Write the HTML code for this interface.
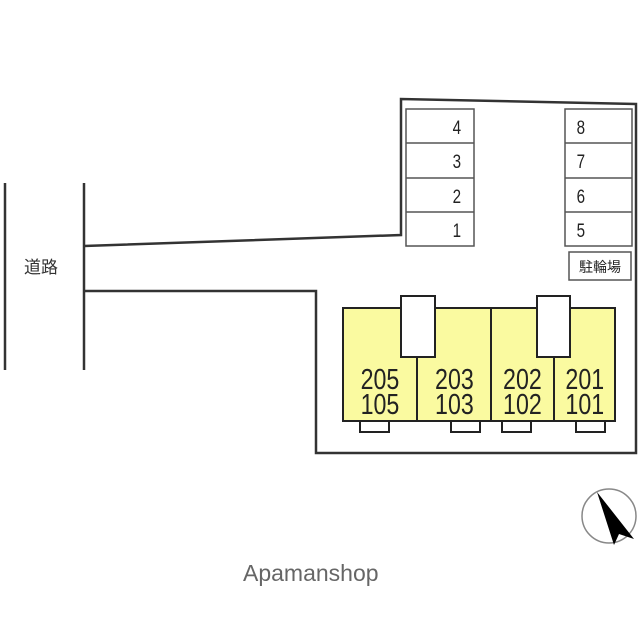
<!DOCTYPE html>
<html><head><meta charset="utf-8"><style>
body{margin:0;background:#fff;}
svg{display:block}
</style></head><body>
<svg width="640" height="640" viewBox="0 0 640 640" xmlns="http://www.w3.org/2000/svg">
<g stroke="#333" stroke-width="2.5" fill="none">
<line x1="5" y1="183" x2="5" y2="370"/>
<line x1="84" y1="183" x2="84" y2="370"/>
<polyline points="84,246 401,235 401,99 636,104 636,453 316,453 316,291 84,291"/>
</g>
<text x="24" y="273" font-family="Liberation Sans, Noto Sans CJK JP, sans-serif" font-size="17" fill="#333">道路</text>
<g stroke="#555" stroke-width="1.5" fill="#fff">
<rect x="406" y="109" width="68" height="137"/>
<line x1="406" y1="143" x2="474" y2="143"/><line x1="406" y1="178" x2="474" y2="178"/><line x1="406" y1="212" x2="474" y2="212"/>
<rect x="565" y="109" width="67" height="137"/>
<line x1="565" y1="143" x2="632" y2="143"/><line x1="565" y1="178" x2="632" y2="178"/><line x1="565" y1="212" x2="632" y2="212"/>
<rect x="569" y="252" width="62" height="28"/>
</g>
<g font-family="Liberation Sans, sans-serif" font-size="19" fill="#222" text-anchor="middle" transform="scale(0.8,1)">
<text x="571" y="134">4</text><text x="571" y="168">3</text><text x="571" y="203">2</text><text x="571" y="237">1</text>
<text x="726" y="134">8</text><text x="726" y="168">7</text><text x="726" y="203">6</text><text x="726" y="237">5</text>
</g>
<text x="600" y="272" font-family="Liberation Sans, Noto Sans CJK JP, sans-serif" font-size="14" fill="#222" text-anchor="middle">駐輪場</text>
<g stroke="#222" stroke-width="2" fill="#fff">
<rect x="360" y="421" width="29" height="11"/><rect x="451" y="421" width="29" height="11"/>
<rect x="502" y="421" width="29" height="11"/><rect x="576" y="421" width="29" height="11"/>
</g>
<g stroke="#222" stroke-width="2">
<rect x="343" y="308" width="272" height="113" fill="#fafaa0"/>
<line x1="491" y1="308" x2="491" y2="421"/>
<line x1="417" y1="357" x2="417" y2="421"/>
<line x1="554" y1="357" x2="554" y2="421"/>
<rect x="401" y="296" width="34" height="61" fill="#fff"/>
<rect x="537" y="296" width="33" height="61" fill="#fff"/>
</g>
<g font-family="Liberation Sans, sans-serif" font-size="29" fill="#222" text-anchor="middle" transform="scale(0.8,1)">
<text x="475" y="389">205</text><text x="475" y="414">105</text>
<text x="568" y="389">203</text><text x="568" y="414">103</text>
<text x="653" y="389">202</text><text x="653" y="414">102</text>
<text x="731" y="389">201</text><text x="731" y="414">101</text>
</g>
<circle cx="609" cy="516" r="27" fill="#fff" stroke="#888" stroke-width="1.5"/>
<polygon points="597,492 634,539 619,534 614,545" fill="#000"/>
<text x="243" y="581" font-family="Liberation Sans, sans-serif" font-size="23" fill="#666">Apamanshop</text>
</svg>
</body></html>
